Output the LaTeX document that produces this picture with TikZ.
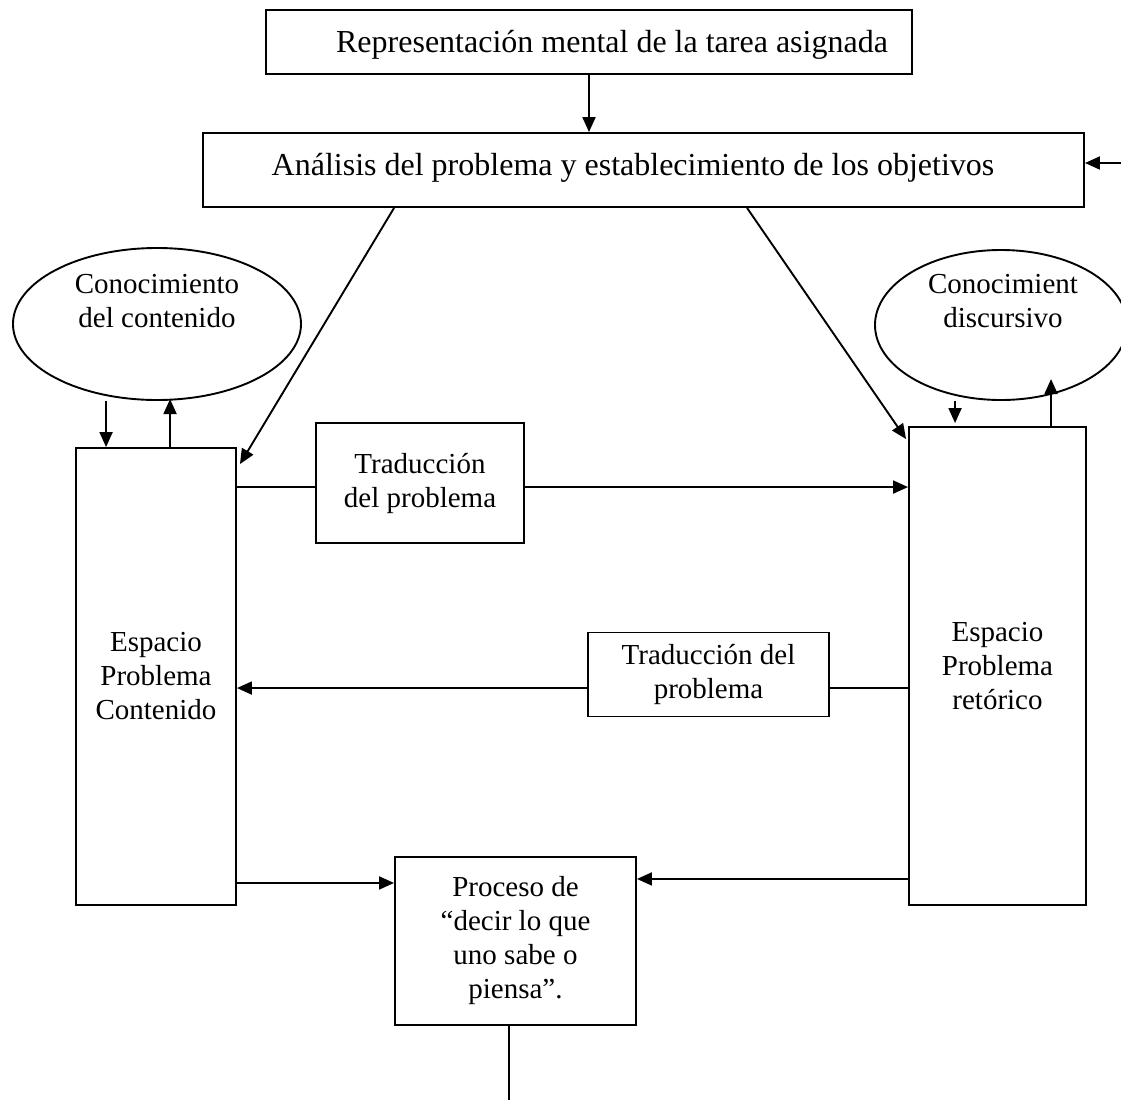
\documentclass[tikz,border=0pt]{standalone}
\usepackage{fontspec}
\setmainfont{Liberation Serif}
\usetikzlibrary{arrows.meta,shapes.geometric,calc}
\begin{document}
\begin{tikzpicture}[x=1pt,y=-1pt,
  every node/.style={font=\fontsize{29}{34}\selectfont, inner sep=0pt},
  big/.style={font=\fontsize{32}{36}\selectfont},
  box/.style={draw, line width=1.9pt, rectangle},
  oval/.style={draw, line width=1.9pt, ellipse},
  txt/.style={align=center},
  link/.style={line width=1.9pt},
  arr/.style={line width=1.9pt, -{Triangle[length=15pt,width=13pt]}}]
\useasboundingbox (0,0) rectangle (1121,1100);

% boxes
\node[box, minimum width=646pt, minimum height=64pt] (rep) at (589,42) {};
\node[txt, big] (repT) at (612,45) {Representación mental de la tarea asignada};
\node[box, minimum width=881pt, minimum height=74pt] (ana) at (643.5,170) {};
\node[txt, big] (anaT) at (633,168) {Análisis del problema y establecimiento de los objetivos};

% knowledge ellipses
\node[oval, minimum width=288pt, minimum height=152pt] (cc) at (157,324) {};
\node[txt] (ccT) at (157,301) {Conocimiento\\del contenido};
\node[oval, minimum width=252pt, minimum height=150pt] (cd) at (1001,325) {};
\node[txt] (cdT) at (1003,301) {Conocimient\\discursivo};

% problem spaces
\node[box, minimum width=160pt, minimum height=457pt, txt] (epc) at (156,676.5) {Espacio\\Problema\\Contenido};
\node[box, minimum width=177pt, minimum height=478pt, txt] (epr) at (997.5,666) {Espacio\\Problema\\retórico};

% translation boxes
\node[box, minimum width=208pt, minimum height=120pt, txt] (tr1) at (420,483) {Traducción\\del problema};
\node[box, minimum width=241pt, minimum height=84pt, txt] (tr2) at (708.5,674.5) {Traducción del\\problema};

% knowledge telling
\node[box, minimum width=241pt, minimum height=168pt, txt] (pro) at (515.5,941) {Proceso de\\“decir lo que\\uno sabe o\\piensa”.};

% top chain
\draw[arr] (rep.south) -- (rep.south |- ana.north);
\coordinate (fb) at (1121,163);
\draw[arr] (fb) -- (fb -| ana.east);

% diagonals from analysis
\draw[arr] ($(ana.south west)+(192,0)$) -- ($(epc.north east)+(3,17)$);
\draw[arr] ($(ana.south west)+(545,0)$) -- ($(epr.north west)+(-2,13)$);

% content knowledge exchange
\coordinate (cin) at ($(epc.north west)+(31,0)$);
\draw[arr] (cin |- cc.south) -- (cin);
\coordinate (cout) at ($(epc.north west)+(95,0)$);
\draw[arr] (cout) -- ($(cout)+(0,-48)$);

% discourse knowledge exchange
\coordinate (din) at ($(epr.north west)+(47,-3)$);
\draw[arr] (din |- cd.south) -- (din);
\coordinate (dout) at ($(epr.north west)+(143,0)$);
\draw[arr] (dout) -- ($(dout)+(0,-47)$);

% translation links
\coordinate (t1) at ($(epc.north east)+(0,40)$);
\draw[link] (t1) -- (t1 -| tr1.west);
\draw[arr] (t1 -| tr1.east) -- (t1 -| epr.west);
\coordinate (t2) at ($(epr.north west)+(0,262)$);
\draw[link] (t2) -- (t2 -| tr2.east);
\draw[arr] (t2 -| tr2.west) -- (t2 -| epc.east);

% into the telling process
\coordinate (p1) at ($(epc.south east)+(0,-23)$);
\draw[arr] (p1) -- (p1 -| pro.west);
\coordinate (p2) at ($(epr.south west)+(0,-27)$);
\draw[arr] (p2) -- (p2 -| pro.east);
\coordinate (out) at (509,1100);
\draw[link] (out |- pro.south) -- (out);
\end{tikzpicture}
\end{document}
